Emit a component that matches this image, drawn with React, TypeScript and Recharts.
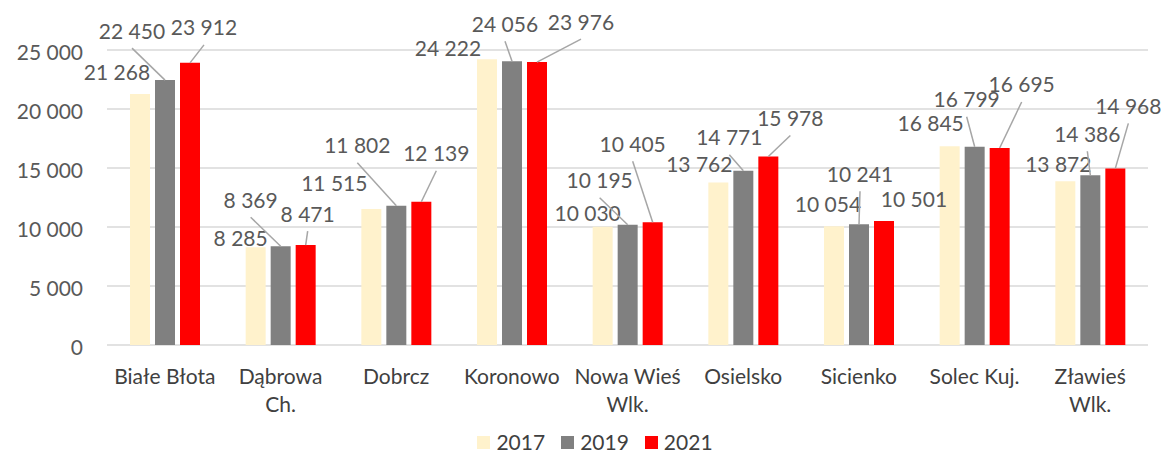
import { Bar, BarChart, CartesianGrid, LabelList, Legend, XAxis, YAxis } from "recharts";

const communes = ["Białe Błota", "Dąbrowa\nCh.", "Dobrcz", "Koronowo", "Nowa Wieś\nWlk.", "Osielsko", "Sicienko", "Solec Kuj.", "Zławieś\nWlk."];
const values2017 = [21268, 8285, 11515, 24222, 10030, 13762, 10054, 16845, 13872];
const values2019 = [22450, 8369, 11802, 24056, 10195, 14771, 10241, 16799, 14386];
const values2021 = [23912, 8471, 12139, 23976, 10405, 15978, 10501, 16695, 14968];
const yTicks = [0, 5000, 10000, 15000, 20000, 25000];

// where each value label sits, relative to the top centre of its bar (px)
const offsets2017 = [[-23, -23], [-15, -10], [-37, -27], [-39, -12], [-15, -14], [-19, -19], [-6, -23], [-19, -24], [-7, -18]];
const offsets2019 = [[-33, -50], [-30, -47], [-39, -61], [-7, -38], [-28, -45], [-14, -34], [1, -51], [-8, -48], [-3, -42]];
const offsets2021 = [[14, -36], [2, -32], [15, -49], [44, -41], [-20, -79], [22, -39], [30, -23], [22, -64], [13, -63]];

const FONT = "Lato, 'Noto Sans', sans-serif";

const data = communes.map((name, i) => ({
  name,
  y2017: values2017[i],
  y2019: values2019[i],
  y2021: values2021[i]
}));

function fmt(v: number) {
  return String(v).replace(/\B(?=(\d{3})+(?!\d))/g, " ");
}

function makeLabel(offsets: number[][]) {
  return (props: any) => {
    const { x, y, width, value, index } = props;
    const [dx, dy] = offsets[index] || [0, -20];
    const bx = Number(x) + Number(width) / 2;
    const by = Number(y);
    const tx = bx + dx;
    const ty = by + dy;
    return (
      <g>
        {dy <= -30 && <line x1={tx} y1={ty + 18} x2={bx} y2={by} stroke="#a6a6a6" strokeWidth={1.5} />}
        <text x={tx} y={ty} textAnchor="middle" dominantBaseline="central" fill="#595959" fontSize={21} fontFamily={FONT}>
          {fmt(Number(value))}
        </text>
      </g>
    );
  };
}

function CategoryTick(props: any) {
  const { x, y, payload } = props;
  const lines = String(payload.value).split("\n");
  return (
    <g>
      {lines.map((line, i) => (
        <text key={i} x={x} y={y + 22 + i * 28} textAnchor="middle" dominantBaseline="central" fill="#404040" fontSize={21} fontFamily={FONT}>
          {line}
        </text>
      ))}
    </g>
  );
}

function ValueTick(props: any) {
  const { y, payload } = props;
  return (
    <text x={83} y={y + 1} textAnchor="end" dominantBaseline="central" fill="#595959" fontSize={21} fontFamily={FONT}>
      {fmt(Number(payload.value))}
    </text>
  );
}

function LegendBox(props: any) {
  const items = props.payload || [];
  return (
    <div style={{ height: 24, display: "flex", justifyContent: "center", alignItems: "center", paddingLeft: 58, fontFamily: FONT, fontSize: 21, lineHeight: "20px", color: "#404040" }}>
      {items.map((item: any) => (
        <span key={item.value} style={{ display: "flex", alignItems: "center", marginRight: 16, position: "relative", top: 1 }}>
          <span style={{ width: 13, height: 13, background: item.color, marginRight: 6, display: "inline-block" }} />
          {item.value}
        </span>
      ))}
    </div>
  );
}

export default function App() {
  return (
    <div style={{ position: "absolute", left: 0, top: 0, width: 1164, height: 453, background: "#fff" }}>
      <BarChart width={1164} height={453} data={data} margin={{ top: 50, right: 16, left: 0, bottom: 0 }} barGap={5} barSize={20}>
        <CartesianGrid vertical={false} stroke="#d9d9d9" strokeWidth={1.5} />
        <XAxis dataKey="name" axisLine={false} tickLine={false} height={84} tick={<CategoryTick />} interval={0} />
        <YAxis domain={[0, 25000]} ticks={yTicks} width={107} axisLine={false} tickLine={false} tick={<ValueTick />} />
        <Legend verticalAlign="bottom" content={<LegendBox />} />
        <Bar dataKey="y2017" name="2017" fill="#fff2cc" isAnimationActive={false}>
          <LabelList dataKey="y2017" content={makeLabel(offsets2017)} />
        </Bar>
        <Bar dataKey="y2019" name="2019" fill="#808080" isAnimationActive={false}>
          <LabelList dataKey="y2019" content={makeLabel(offsets2019)} />
        </Bar>
        <Bar dataKey="y2021" name="2021" fill="#ff0000" isAnimationActive={false}>
          <LabelList dataKey="y2021" content={makeLabel(offsets2021)} />
        </Bar>
      </BarChart>
    </div>
  );
}
